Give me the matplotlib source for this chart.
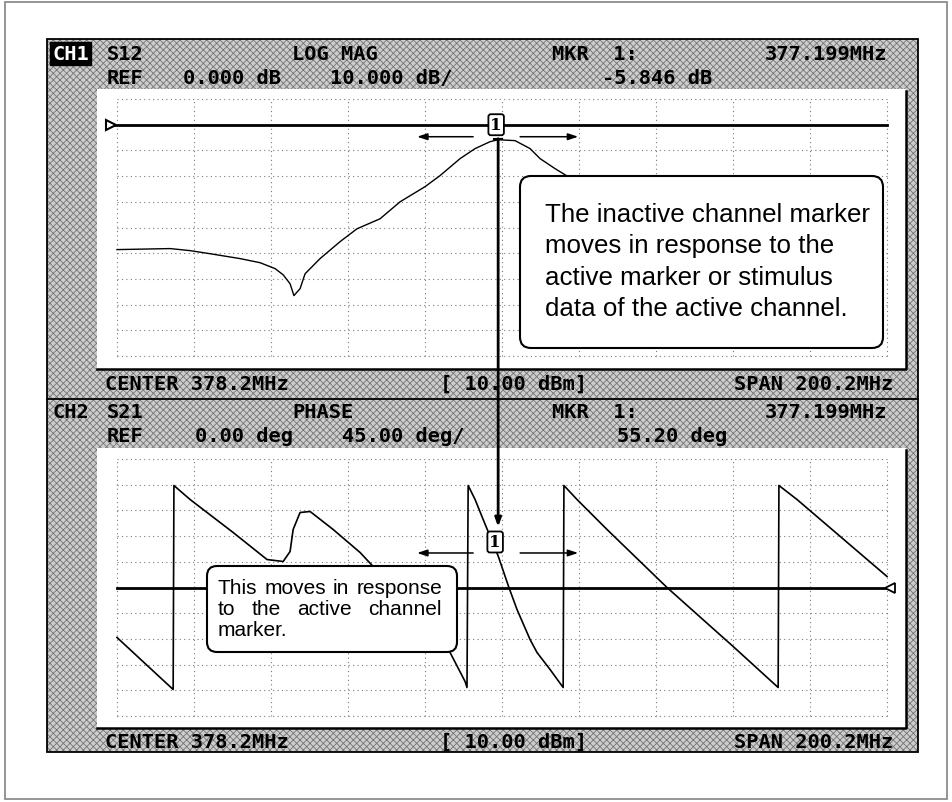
import numpy as np
import matplotlib
matplotlib.use("Agg")
import matplotlib.pyplot as plt
from matplotlib.patches import Rectangle, FancyBboxPatch

W, H = 952, 803

# sweep settings
center_mhz = 378.2
span_mhz = 200.2
marker_mhz = 377.199
f_start = center_mhz - span_mhz / 2
f_stop = center_mhz + span_mhz / 2

# CH1 S12 log mag, 10 dB/div, ref 0 dB
s12_freq = [278.1, 291.9, 297.1, 302.3, 310.1, 315.3, 319.2, 321.3, 323.1, 324.1,
            325.7, 327.0, 330.9, 336.1, 340.5, 346.5, 351.7, 358.2, 362.1, 367.3,
            371.2, 375.1, 377.199, 381.6, 385.5, 388.1, 392.0, 394.6, 403.7, 416.7,
            442.7, 476.0]
s12_db = [-48.6, -48.2, -49.0, -50.2, -52.1, -53.7, -56.0, -58.4, -61.9, -66.5,
          -63.8, -58.0, -52.1, -45.5, -40.5, -36.6, -30.0, -24.1, -19.8, -13.2,
          -9.3, -6.6, -5.846, -6.2, -9.3, -13.2, -17.1, -19.5, -26.8, -34.6,
          -44.4, -52.1]
mkr1_db = -5.846

# CH2 S21 phase, 45 deg/div, ref 0 deg (wraps at +/-180)
s21_freq = [278.1, 285.4, 292.7,
            292.9, 297.1, 308.3, 317.1, 321.3, 323.1, 323.9, 325.7, 328.3, 334.3,
            341.3, 344.7, 354.3, 364.7, 368.6, 369.1,
            369.4, 371.2, 373.3, 377.199, 380.0, 382.1, 385.5, 387.3, 390.7, 394.1,
            394.3, 397.7, 405.5, 421.1, 438.3, 450.0,
            450.2, 454.9, 478.3]
s21_deg = [-87.5, -133.1, -178.6,
           178.6, 154.1, 96.3, 49.0, 45.5, 63.0, 101.6, 131.3, 133.1, 101.6,
           61.3, 36.8, -21.0, -113.8, -164.6, -175.1,
           178.6, 154.1, 119.1, 55.2, 0.0, -38.5, -91.1, -113.8, -143.6, -175.1,
           178.6, 154.1, 101.6, 0.0, -103.3, -175.1,
           178.6, 154.1, 19.3]
mkr2_deg = 55.20

hdr_ch1 = [(107, 54.5, "S12"), (292, 54.5, "LOG MAG"), (552, 54.5, "MKR  1:"),
           (765, 54.5, "377.199MHz"),
           (107, 78.5, "REF"), (183, 78.5, "0.000 dB"), (330, 78.5, "10.000 dB/"),
           (602, 78.5, "-5.846 dB")]
hdr_ch2 = [(52, 412.5, "CH2"), (107, 412.5, "S21"), (292, 412.5, "PHASE"),
           (552, 412.5, "MKR  1:"), (765, 412.5, "377.199MHz"),
           (107, 436.5, "REF"), (195, 436.5, "0.00 deg"), (342, 436.5, "45.00 deg/"),
           (617, 436.5, "55.20 deg")]
footer = ["CENTER 378.2MHz", "[ 10.00 dBm]", "SPAN 200.2MHz"]

note1 = ["The inactive channel marker", "moves in response to the",
         "active marker or stimulus", "data of the active channel."]
note2 = ["This moves in response", "to the active channel", "marker."]

plt.rcParams['hatch.linewidth'] = 0.6
fig = plt.figure(figsize=(W / 100, H / 100), dpi=100)

bg = fig.add_axes([0, 0, 1, 1], zorder=0)
bg.set_xlim(0, W)
bg.set_ylim(H, 0)
bg.axis('off')

# outer frame and dithered screen
bg.add_patch(Rectangle((5, 3), 942, 797, fill=False, ec='#8c8c8c', lw=1.3))
bg.add_patch(Rectangle((47, 40), 871, 713, fc='#cdcdcd', ec='#747474', lw=0, hatch='xxxxx'))
bg.add_patch(Rectangle((47, 40), 871, 713, fill=False, ec='black', lw=1.3))
bg.plot([47, 918], [400, 400], color='black', lw=1.3)

# white plot panels with shadow edges
for y0, y1 in [(90, 370), (449, 729)]:
    bg.add_patch(Rectangle((97, y0), 809, y1 - y0, fc='white', ec='none'))
    bg.plot([906, 906, 97], [y0 + 2, y1, y1], color='black', lw=1.8)

mono = dict(family='DejaVu Sans Mono', weight='bold', fontsize=14.7, va='center', ha='left')
bg.text(52, 54.5, "CH1", color='white',
        bbox=dict(boxstyle='square,pad=0.12', fc='black', ec='black'), **mono)
for x, y, s in hdr_ch1 + hdr_ch2:
    bg.text(x, y, s, color='black', **mono)
for y in [384.5, 742.5]:
    bg.text(105, y, footer[0], **mono)
    bg.text(440, y, footer[1], **mono)
    bg.text(734, y, footer[2], **mono)

grid_kw = dict(color='#7a7a7a', lw=0.8, ls=(0, (1, 3)), clip_on=False)


def grid_axes(x0, y0, x1, y1, lo, hi):
    ax = fig.add_axes([x0 / W, 1 - y1 / H, (x1 - x0) / W, (y1 - y0) / H], zorder=2)
    ax.set_xlim(f_start, f_stop)
    ax.set_ylim(lo, hi)
    ax.axis('off')
    for v in np.linspace(f_start, f_stop, 11):
        ax.axvline(v, **grid_kw)
    for v in np.linspace(lo, hi, 11):
        ax.axhline(v, **grid_kw)
    return ax


axt = grid_axes(117, 100, 887, 357, -90, 10)
axb = grid_axes(117, 460, 887, 717, -225, 225)
axt.plot(s12_freq, s12_db, color='black', lw=1.0, clip_on=False)
axb.plot(s21_freq, s21_deg, color='black', lw=1.2, clip_on=False)

ov = fig.add_axes([0, 0, 1, 1], zorder=5)
ov.set_xlim(0, W)
ov.set_ylim(H, 0)
ov.axis('off')


def to_px(ax, x, y):
    dx, dy = ax.transData.transform((x, y))
    return dx, H - dy


# reference lines
lx, ry1 = to_px(axt, f_start, 0)
rx, _ = to_px(axt, f_stop, 0)
ov.plot([lx - 7, rx], [ry1, ry1], color='black', lw=2, zorder=2)
ov.plot([lx - 6], [ry1], marker='>', ms=7, mfc='white', mec='black', mew=1.5, zorder=3)
_, ry2 = to_px(axb, f_start, 0)
ov.plot([lx, rx], [ry2, ry2], color='black', lw=2, zorder=2)
ov.plot([rx + 3], [ry2], marker='<', ms=7, mfc='white', mec='black', mew=1.3, zorder=3)

# markers
m1x, m1y = to_px(axt, marker_mhz, mkr1_db)
m2x, m2y = to_px(axb, marker_mhz, mkr2_deg)
mk_box = dict(boxstyle='round,pad=0.12,rounding_size=0.15', fc='white', ec='black', lw=1.3)
ov.text(m1x - 2, m1y - 15, "1", family='DejaVu Serif', weight='bold', fontsize=12,
        ha='center', va='center', bbox=mk_box, zorder=6)
ov.text(m2x - 3, m2y - 14, "1", family='DejaVu Serif', weight='bold', fontsize=12,
        ha='center', va='center', bbox=mk_box, zorder=6)
ov.plot([m1x - 4, m1x + 4], [m1y - 1, m1y - 1], color='black', lw=1.5, zorder=4)
ov.annotate('', xy=(m2x, m2y - 29), xytext=(m1x, m1y - 1),
            arrowprops=dict(arrowstyle='-|>,head_length=0.5,head_width=0.18',
                            color='black', lw=2, shrinkA=0, shrinkB=0), zorder=4)
arr = dict(arrowstyle='-|>,head_length=0.6,head_width=0.2', color='black', lw=1.1,
           shrinkA=0, shrinkB=0)
for mx, my in [(m1x, m1y), (m2x, m2y)]:
    ov.annotate('', xy=(mx - 81, my - 3), xytext=(mx - 25, my - 3), arrowprops=arr, zorder=4)
    ov.annotate('', xy=(mx + 80, my - 3), xytext=(mx + 22, my - 3), arrowprops=arr, zorder=4)

# annotation balloons
ov.add_patch(FancyBboxPatch((520, 177), 363, 172, boxstyle='round,pad=0,rounding_size=11',
                            fc='white', ec='black', lw=1.5, zorder=5))
for i, s in enumerate(note1):
    ov.text(545, 222 + 31.5 * i, s, family='Liberation Sans', fontsize=18.6,
            va='baseline', ha='left', zorder=6)

ov.add_patch(FancyBboxPatch((207, 567), 250, 86, boxstyle='round,pad=0,rounding_size=10',
                            fc='white', ec='black', lw=1.5, zorder=5))
renderer = fig.canvas.get_renderer()
tx0, tx1 = 218, 442
for i, s in enumerate(note2):
    y = 594 + 21 * i
    words = s.split()
    if i == len(note2) - 1:
        ov.text(tx0, y, s, family='Liberation Sans', fontsize=15, va='baseline', zorder=6)
        continue
    arts = [ov.text(0, y, w, family='Liberation Sans', fontsize=15, va='baseline', zorder=6)
            for w in words]
    widths = [a.get_window_extent(renderer).width for a in arts]
    gap = (tx1 - tx0 - sum(widths)) / (len(words) - 1)
    x = tx0
    for a, w in zip(arts, widths):
        a.set_x(x)
        x += w + gap

fig.savefig("out.png", dpi=100)
